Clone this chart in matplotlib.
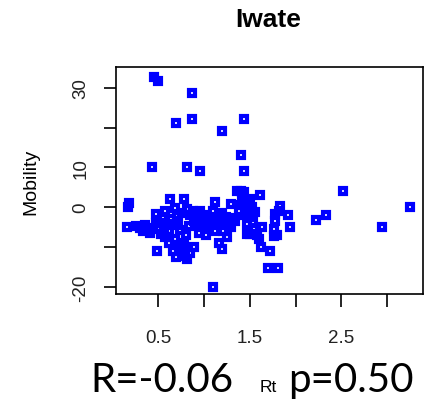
import matplotlib.pyplot as plt

# Rt vs Mobility, Iwate
rt = [0.46, 0.50, 0.87, 0.70, 0.87, 1.44, 1.20, 1.40, 0.43, 0.81, 0.96, 1.44,
      2.52, 3.25, 2.94, 2.33, 2.22, 1.70, 1.81, 1.72, 1.62, 1.92, 1.94, 1.80,
      1.83, 1.61, 1.40, 1.10,
      0.18, 0.17, 0.16, 0.26, 0.63, 0.78, 1.12, 0.49, 0.81,
      0.48, 0.55, 0.71, 0.68, 0.53, 0.41, 0.33, 0.68, 0.66, 0.75, 0.70,
      0.81, 0.96, 1.10, 1.32, 0.89, 1.03, 1.12, 1.21, 1.30, 1.47, 0.78, 0.89,
      1.16, 1.20, 0.79, 1.47, 1.29, 1.36,
      1.50, 1.44, 1.47, 1.56, 1.54, 1.63, 1.50, 1.60, 1.82, 1.78, 1.76, 1.76, 1.78,
      0.36, 0.40, 0.44, 0.52, 0.56, 0.60, 0.62, 0.58, 0.64, 0.70, 0.74, 0.72,
      0.76, 0.85, 0.84, 0.92, 0.94, 0.98, 1.00, 1.05, 1.08, 1.14, 1.18, 1.24,
      1.26, 1.34, 1.38, 1.40, 1.42, 1.45, 1.48, 1.52, 1.55, 1.58, 1.52, 0.62,
      0.72, 0.85, 0.80, 0.58, 0.95, 1.02, 1.25, 0.36, 0.48, 0.88, 1.20, 0.30]
mobility = [32.6, 31.7, 28.6, 21.1, 22.1, 22.1, 19.1, 13.1, 10.1, 10.1, 9.1, 9.1,
            4.0, 0.1, -5.0, -1.9, -3.1, -15.2, -15.2, -11.1, -10.1, -1.9, -4.9, -7.0,
            0.3, 3.0, 4.1, -20.0,
            1.0, 0.0, -4.9, -4.7, 2.0, 2.0, 1.2, -11.0, -13.1,
            -1.8, -2.6, -2.2, -0.1, -6.8, -6.6, -6.0, -8.0, -11.0, -10.0, -12.6,
            -0.5, -0.9, -0.9, -2.6, -3.4, -4.9, -5.9, -5.9, -5.1, -4.3, -8.9, -10.1,
            -8.9, -10.6, -12.2, -6.8, 0.8, 4.1,
            2.0, 3.7, -0.9, -1.3, -3.8, -5.1, -6.8, -8.0, -0.9, -3.4, -5.5, -7.2, -1.8,
            -4.5, -5.2, -5.5, -4.0, -5.0, -4.2, -6.0, -1.0, -3.0, -4.5, -5.8, -3.5,
            -1.5, -2.0, -4.8, -4.5, -2.5, -3.5, -2.0, -3.0, -4.0, -2.8, -3.8, -2.5,
            -4.2, -3.5, -1.0, 0.5, 1.5, -2.0, 1.0, -2.5, -5.5, -7.0, 0.0, -9.0,
            -9.5, -11.5, -7.0, -7.5, -6.5, -7.0, -7.5, -5.5, -4.0, -1.0, -1.5, -5.2]

xticks = [0.5, 1.0, 1.5, 2.0, 2.5, 3.0]
xlabels = ['0.5', '', '1.5', '', '2.5', '']
yticks = [-20, -10, 0, 10, 20, 30]
ylabels = ['-20', '', '0', '10', '', '30']

plt.rcParams['font.family'] = ['Liberation Sans', 'DejaVu Sans']

fig = plt.figure(figsize=(4.29, 4.06), dpi=100)
ax = fig.add_axes([116 / 429, 1 - 295 / 406, 307 / 429, 227 / 406])

ax.plot(rt, mobility, 's', ms=4.6, mew=3.0, mfc='none', mec='#0000ff')

ax.set_xlim(0.04, 3.39)
ax.set_ylim(-21.8, 35.2)
ax.set_xticks(xticks)
ax.set_xticklabels(xlabels, fontsize=13.5, color='#222222')
ax.set_yticks(yticks)
ax.set_yticklabels(ylabels, fontsize=13.5, color='#222222', rotation=90, va='center')
ax.tick_params(length=9, width=1.2, pad=10)
ax.tick_params(axis='x', pad=16)
for s in ax.spines.values():
    s.set_linewidth(1.2)

ax.set_ylabel('Mobility', fontsize=14, labelpad=24)
fig.text(268 / 429, 1 - 20 / 406, 'Iwate', fontsize=19, fontweight='bold',
         ha='center', va='center')

# bottom annotation
fig.text(90 / 429, 1 - 392 / 406, 'R=-0.06', family='Lato', fontsize=29,
         ha='left', va='baseline')
fig.text(260 / 429, 1 - 392 / 406, 'Rt', fontsize=12.5, ha='left', va='baseline')
fig.text(288 / 429, 1 - 392 / 406, 'p=0.50', family='Lato', fontsize=29,
         ha='left', va='baseline')

fig.savefig('out.png', dpi=100)
